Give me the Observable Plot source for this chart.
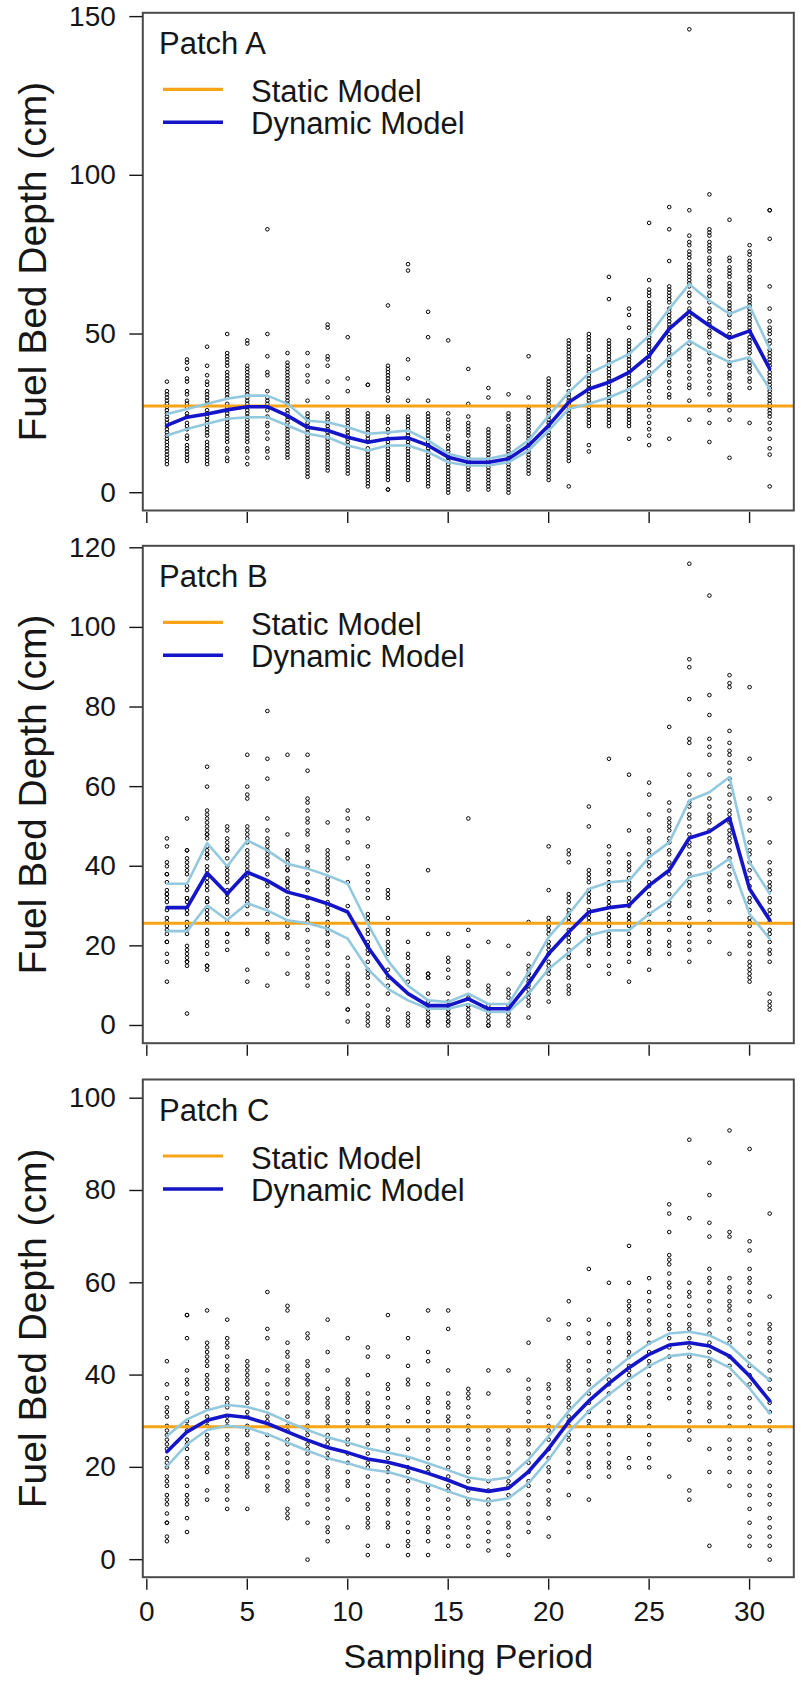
<!DOCTYPE html>
<html><head><meta charset="utf-8">
<script src="https://cdn.jsdelivr.net/npm/d3@7"></script>
<script src="https://cdn.jsdelivr.net/npm/@observablehq/plot@0.6"></script>
<style>
body{margin:0;background:#fff;}
#chart{position:relative;width:801px;height:1690px;background:#fff;}
#chart svg{position:absolute;left:0;display:block;}
</style></head><body><div id="chart"></div>
<script>
// ---------- DATA ----------
const periods = [1,2,3,4,5,6,7,8,9,10,11,12,13,14,15,16,17,18,19,20,21,22,23,24,25,26,27,28,29,30,31];
const xTickValues = [0,5,10,15,20,25,30];
const seriesNames = ["Static Model", "Dynamic Model"];
const patchNames = ["Patch A", "Patch B", "Patch C"];
const yLabel = "Fuel Bed Depth (cm)";
const xLabel = "Sampling Period";

const patchA_yTicks = [0,50,100,150];
const patchB_yTicks = [0,20,40,60,80,100,120];
const patchC_yTicks = [0,20,40,60,80,100];

const patchA_static = 27.3;
const patchB_static = 25.7;
const patchC_static = 28.8;

const patchA_points = [
"35 32 31 30 29 28 27 26 25 24 23 22 21 20 19 18 17 16 15 14 13 12 11 10 9",
"42 41 39 36 35 32 31 29 28 27 25 24 22 21 20 18 17 15 14 13 12 11 10",
"46 40 37 35 34 32 31 30 29 28 26 25 24 23 22 21 20 19 18 16 15 14 13 12 11 10 9",
"50 44 43 42 41 40 38 37 36 35 34 33 32 31 30 28 27 26 25 24 23 22 21 20 19 18 17 16 14 13 11 10",
"48 47 40 39 38 37 36 35 34 33 32 31 30 29 28 27 26 25 24 23 22 21 20 19 18 17 16 14 13 11 9",
"83 50 43 38 37 32 30 29 28 26 24 22 21 19 17 14 13 11",
"44 41 40 39 38 37 36 35 34 33 32 31 30 29 28 26 25 24 23 22 21 20 19 18 17 16 15 14 13 12 11",
"44 40 37 35 29 25 24 23 22 21 20 19 18 17 16 15 14 13 12 11 10 9 8 7 6 5",
"53 52 43 42 40 35 30 25 24 23 22 21 20 19 18 17 16 15 14 13 12 11 10 9 8 7",
"49 36 32 26 25 24 23 22 21 20 19 18 17 16 15 14 13 12 11 10 9 8 7 6",
"34 34 25 24 23 22 21 20 19 18 17 16 14 13 12 11 10 9 8 7 6 5 4 3 2",
"59 40 39 38 37 36 35 34 33 32 30 29 24 23 22 20 19 17 16 15 14 13 12 11 10 9 8 7 6 5 4 1 1",
"72 70 42 36 29 24 23 22 21 20 19 18 17 16 15 14 13 12 11 10 9 8 7 6 5 4",
"57 49 29 25 24 23 22 21 20 19 18 17 16 15 14 13 12 11 10 9 8 7 6 5 4 3 2",
"48 25 23 22 21 20 18 17 15 14 13 12 11 10 9 8 7 6 5 4 3 2 1 0",
"39 28 24 22 21 20 19 18 16 15 14 13 12 11 10 9 8 7 6 5 4 3 2 1",
"33 30 20 19 18 17 16 15 14 13 12 11 10 9 8 7 6 5 4 3 2 1",
"31 25 24 23 21 20 19 18 17 16 15 14 13 12 11 10 9 8 7 6 5 4 3 2 1 0",
"43 30 27 26 25 24 23 22 21 20 19 18 17 16 15 14 13 12 11 10 9 8 7 6",
"36 35 34 33 32 31 30 29 28 27 26 25 24 23 22 21 20 19 18 17 16 15 14 13 12 11 10 9 8 7 6 5 4",
"48 47 46 45 44 43 42 41 40 39 38 37 36 35 34 32 31 30 29 28 27 26 25 24 23 22 21 20 19 18 17 16 15 14 13 12 11 10 2",
"50 49 48 47 46 45 43 42 41 40 39 38 37 36 35 34 33 32 31 30 29 28 27 26 25 24 23 22 21 15 13",
"68 61 48 47 46 45 44 43 42 41 40 39 38 37 36 35 34 33 32 31 30 29 28 27 26 25 24 23 22 21",
"58 56 52 48 47 46 45 44 43 42 41 40 39 38 37 36 35 34 33 32 31 30 29 27 26 25 24 23 22 21 17",
"85 67 64 63 62 60 59 58 57 56 55 54 53 52 51 50 49 48 47 46 45 44 43 42 41 40 38 37 36 35 34 32 30 28 26 24 22 20 18 15",
"90 83 73 65 64 63 62 61 60 58 57 56 55 54 53 52 50 49 48 46 45 44 43 42 41 40 38 37 35 33 31 30 17",
"146 89 81 79 78 76 75 74 72 71 70 69 68 67 66 65 63 62 60 58 57 56 55 54 53 51 50 49 47 45 44 43 42 40 38 36 34 33 29 23",
"94 83 82 81 79 78 77 76 74 73 72 70 68 67 66 65 63 62 60 58 57 55 54 53 51 50 49 47 46 44 42 41 39 37 35 33 31 26 22 16",
"86 74 73 71 70 69 68 66 65 64 63 62 60 59 58 57 56 54 53 52 50 49 47 46 45 44 43 41 40 38 37 36 34 33 31 30 29 26 23 11",
"78 76 75 73 72 71 70 68 67 66 65 64 62 61 60 59 58 57 56 55 54 53 52 51 49 48 47 46 45 44 42 41 40 39 38 36 35 33 22",
"89 89 80 65 58 54 52 51 50 48 47 45 44 43 42 41 40 38 37 36 35 34 33 32 31 30 29 28 27 26 25 24 22 20 17 14 12 2"
];
const patchA_mean  = [21.2,23.8,24.8,26.1,27.1,27.1,24.3,20.6,19.6,17.5,15.9,17,17.3,14.9,11.2,9.6,9.6,10.7,14.9,21.2,28.5,32.7,34.8,37.9,43.2,51.6,57.1,52.6,48.7,51,39];
const patchA_upper = [24.8,26.4,28,29.6,30.6,30.6,28,22.7,22.2,20.6,18.6,19,19.6,16.5,12.3,10.7,10.7,12,16.5,24.3,31.7,37.6,40.6,43.7,49.5,57.9,65.7,60.5,56.3,58.9,45.3];
const patchA_lower = [18,20.1,21.7,23.3,23.8,23.8,21.2,18.6,17.5,14.9,13.3,14.9,14.9,12.8,9.6,8.6,8.6,9.6,13.3,19.6,26.4,28,30,32.7,36.9,42.7,47.9,44.2,41.1,42.7,32.7];

const patchB_points = [
"47 45 41 40 38 38 36 34 33 33 32 31 29 27 26 25 24 23 21 21 18 16 11",
"52 44 44 42 41 40 39 38 35 34 32 32 31 29 28 26 25 24 23 20 19 18 17 16 16 15 3",
"65 60 54 53 52 51 50 49 48 48 47 45 44 43 43 42 40 39 37 36 35 34 32 31 31 29 28 27 26 24 23 21 20 18 15 15 14",
"50 49 47 46 45 44 44 42 40 39 38 37 36 34 33 32 31 29 28 26 23 23 21 19",
"68 60 58 57 50 49 48 47 46 44 43 42 41 40 39 38 37 36 35 34 33 32 31 30 28 24 23 14 11",
"79 67 62 52 49 47 46 45 44 43 42 41 40 38 36 35 33 32 31 30 28 26 23 22 21 18 10",
"68 48 44 43 43 42 41 40 39 39 37 36 36 35 34 32 31 30 29 28 26 25 23 22 18 13",
"68 64 57 56 54 52 51 49 48 45 44 41 40 38 36 36 34 32 30 28 27 26 24 21 19 17 15 13 12 10",
"51 44 43 42 41 40 39 37 36 35 34 33 31 30 29 28 26 25 24 23 21 20 18 15 13 11 8",
"54 52 49 46 42 36 30 17 15 13 12 11 10 9 8 4 4 1",
"52 45 40 38 36 34 32 28 27 26 24 23 21 20 19 18 16 14 13 12 10 8 5 3 2 1 0",
"34 33 32 27 24 23 21 20 19 18 14 12 10 8 4 2 1 0",
"21 18 17 15 14 13 11 3 2 1 0",
"39 23 13 13 12 12 8 6 5 4 3 2 1 1 0",
"23 17 16 14 12 8 6 5 4 3 3 2 1 1 0",
"52 24 20 16 15 14 13 11 10 7 5 5 4 3 2 1 0",
"21 10 9 8 5 4 3 2 1 0 0",
"20 13 9 8 7 5 4 3 2 1 0",
"26 18 15 14 13 13 12 11 10 9 8 7 6 5 2",
"45 34 27 26 25 24 23 21 20 19 18 16 15 14 13 11 10 9 8 6",
"44 43 41 33 32 31 29 28 27 26 24 23 22 21 19 18 17 15 14 13 12 10 9 8",
"55 50 39 38 37 36 34 33 32 31 29 28 27 26 24 23 22 21 19 18 15",
"67 45 43 41 39 38 36 35 34 32 31 30 28 27 26 25 23 22 21 20 18 15 13",
"63 49 43 41 40 39 37 36 35 34 32 31 30 28 27 26 25 23 21 20 18 16 11",
"61 58 53 49 47 46 44 43 41 40 38 36 35 33 31 30 28 26 24 23 21 19 18 14",
"75 56 54 52 51 50 49 47 46 44 43 41 40 38 36 35 33 31 30 28 26 24 21 20 18",
"116 92 90 82 72 71 63 60 58 56 55 53 52 50 48 46 45 43 41 40 38 36 35 33 31 30 27 25 23 21 19 16",
"108 83 78 72 70 68 63 57 55 53 52 51 49 47 46 44 43 41 40 38 37 36 34 32 31 29 26 24 21",
"88 86 85 74 71 69 68 66 64 62 60 58 56 54 53 52 51 49 48 47 46 44 42 40 38 36 35 31 18",
"85 67 57 54 52 49 46 44 43 41 39 37 35 32 31 29 27 26 25 23 21 20 18 16 15 14 13 12 11",
"57 46 41 39 38 36 35 34 32 31 29 28 26 24 23 21 19 18 16 8 6 5 4"
];
const patchB_mean  = [29.6,29.6,38.3,33.1,38.5,36.4,33.5,32.2,30.6,28.5,19.7,12.6,8,5,5,6.7,4.2,4.2,10.5,18,23.5,28.5,29.6,30.2,35.2,39,47.1,48.7,52.1,34.3,26.5];
const patchB_upper = [35.6,35.6,45.8,40,46.5,44,40.6,39.4,37.7,35.6,25.5,16.3,10,6.3,5.9,8,5.4,5.4,13.4,22.2,28,34.3,36,36.4,42.3,46,56.5,58.6,62.4,41,33.1];
const patchB_lower = [23.7,23.7,30.2,26.5,30.7,28.9,26.4,25.7,24.3,21.8,14.2,9.2,6.3,4.2,4.2,5.4,3.4,3.4,8,14.2,18.4,22.6,23.9,23.9,28,31.4,37.3,38.5,41.9,28,21.8];

const patchC_points = [
"43 38 35 33 32 31 29 28 27 26 25 24 22 21 20 18 17 16 14 13 12 10 8 8 5 4",
"53 53 48 41 39 38 36 34 33 32 30 29 28 26 25 24 22 21 20 18 16 14 13 12 9 6",
"54 47 46 45 44 43 42 40 39 38 37 35 34 33 31 30 29 27 26 25 23 22 20 19 15 13",
"52 48 47 46 44 42 41 39 38 37 35 34 33 31 30 29 27 26 24 23 21 20 18 16 15 13 11",
"43 42 41 40 39 38 36 35 34 32 31 29 28 27 25 24 23 21 20 19 18 11",
"58 50 48 41 38 36 34 33 31 30 29 27 25 23 22 20 18 16 15",
"55 54 47 45 44 42 41 39 38 36 34 31 29 28 26 25 23 21 19 17 16 15 11 10 9",
"49 48 43 42 40 39 38 36 35 34 32 31 29 28 27 25 24 23 21 19 17 16 14 12 8 0",
"52 45 41 37 35 34 33 31 30 29 27 26 25 23 22 20 19 18 16 15 13 11 9 7 6 4",
"48 39 38 36 35 34 32 30 29 28 26 25 23 21 19 17 16 13 7",
"46 44 40 36 34 33 32 30 29 27 25 23 21 20 18 16 14 12 11 9 8 7 3 1",
"53 44 38 37 35 33 31 29 28 26 24 22 20 19 17 15 13 12 10 8 7 3",
"48 42 39 38 33 30 26 24 22 20 19 17 15 13 12 10 8 6 4 3 1",
"54 45 43 38 35 34 32 30 28 26 24 22 20 19 16 15 13 11 9 7 6 4 1",
"54 50 41 36 34 33 31 30 28 26 24 22 20 18 16 15 13 11 9 7 5 3",
"37 36 35 33 31 29 28 26 24 22 20 19 17 15 13 12 9 7 5 3",
"41 36 28 26 24 22 20 19 17 15 13 12 10 8 6 4 2",
"41 28 26 25 23 21 19 17 16 14 12 10 8 7 5 3 1",
"47 39 37 35 34 32 30 28 26 25 23 21 19 17 16 14 12 10 8 6",
"52 38 37 35 33 31 29 28 26 24 22 20 19 17 15 13 12 9 5",
"56 51 48 43 42 41 39 38 37 35 34 33 31 30 29 27 26 24 23 21 19 14",
"63 52 49 47 43 41 39 38 36 34 32 30 29 27 25 23 21 20 18 13",
"60 51 48 47 45 43 41 39 38 36 34 32 30 29 27 25 23 21 20 18",
"68 60 56 55 54 52 51 49 48 47 45 44 42 41 40 38 37 35 33 31 30 29 22 20",
"61 58 56 54 52 51 49 47 45 43 42 40 38 36 34 33 31 29 27 25 22 20",
"77 75 71 66 65 64 62 60 59 57 55 53 51 50 48 46 44 42 41 39 37 35 18",
"91 74 60 58 57 55 53 51 50 48 46 44 42 41 39 37 35 34 32 30 28 26 15 13",
"86 79 73 70 63 61 60 58 56 54 52 51 49 47 45 43 42 40 38 36 34 33 30 24 19 3",
"93 71 70 61 59 58 56 55 54 52 50 48 47 44 42 40 38 35 33 31 29 26 24 22 19 16",
"89 69 67 63 61 60 58 56 53 51 49 47 44 42 40 38 35 33 31 29 26 24 22 19 16 14 11 8 5 3",
"75 57 51 50 48 47 45 43 41 39 37 34 32 30 28 25 23 21 19 16 14 12 9 7 5 3 0"
];
const patchC_mean  = [23.4,27.7,30.2,31.3,30.8,29.5,27.7,25.9,24.3,23.2,21.8,21.1,20,18.7,17.2,15.5,14.8,15.5,19.1,24.1,29.9,34.4,38.2,41.6,44.5,46.5,47,46.3,44.1,39.8,34.4];
const patchC_upper = [26.8,30.4,32.4,33.5,33.1,31.9,29.9,28.1,26.5,25.4,24.1,23.2,22.3,20.9,19.4,17.8,17.2,17.8,21.7,26.8,32.2,36.7,40.3,43.8,46.8,49,49.4,48.6,46.5,42.5,38.9];
const patchC_lower = [20.2,25,28.1,29,28.6,27.2,25.4,23.6,22,20.9,19.6,19,17.8,16.4,14.8,13.3,12.6,13.3,16.6,21.7,27.7,32.2,35.8,39.1,42,44.1,44.6,43.8,41.6,37.1,31.7];

// ---------- DRAWING ----------
const FONT = "Arial, 'Liberation Sans', Helvetica, sans-serif";
const ORANGE = "#F7A416";
const BLUE = "#1414C8";
const LIGHTBLUE = "#93C9DF";
const INK = "#161616";

function buildPanel(cfg) {
  const pts = cfg.points.flatMap((s, i) => s.trim().split(/\s+/).map(v => ({period: periods[i], depth: +v})));
  const fit = periods.map((p, i) => ({period: p, mean: cfg.mean[i], upper: cfg.upper[i], lower: cfg.lower[i]}));
  const marks = [
    Plot.dot(pts, {x: "period", y: "depth", r: 1.8, stroke: "#000", strokeWidth: 1, fill: "none"}),
    Plot.ruleY([cfg.staticVal], {stroke: ORANGE, strokeWidth: 3}),
    Plot.line(fit, {x: "period", y: "upper", stroke: LIGHTBLUE, strokeWidth: 2.6}),
    Plot.line(fit, {x: "period", y: "lower", stroke: LIGHTBLUE, strokeWidth: 2.6}),
    Plot.line(fit, {x: "period", y: "mean", stroke: BLUE, strokeWidth: 3.6}),
    Plot.frame({stroke: "#4a4a4a", strokeWidth: 2}),
    Plot.axisY(cfg.yTicks, {anchor: "left", tickSize: 13, tickPadding: 14, fontSize: 28, label: null, strokeWidth: 1.4}),
    Plot.axisX(xTickValues, {anchor: "bottom", tickSize: 11, tickPadding: 11, fontSize: 28, label: null, strokeWidth: 1.4, dy: 2,
      tickFormat: cfg.showX ? (d => String(d)) : (() => "")}),
    Plot.text([yLabel], {frameAnchor: "left", textAnchor: "middle", lineAnchor: "middle", rotate: -90, dx: -108.8, fontSize: 39, fill: INK})
  ];
  if (cfg.showX) {
    marks.push(Plot.text([xLabel], {frameAnchor: "bottom", textAnchor: "middle", lineAnchor: "middle", dy: 80, fontSize: 34, fill: INK}));
  }
  const svg = Plot.plot({
    width: 801, height: cfg.height,
    marginLeft: 142.3, marginRight: 7.7, marginTop: cfg.mt, marginBottom: cfg.mb,
    style: {fontFamily: FONT, color: INK, background: "white", overflow: "visible"},
    x: {domain: [-0.2, 32.2]},
    y: {domain: cfg.yDomain},
    marks
  });
  // legend (inside the frame, top-left)
  const s = d3.select(svg);
  const ft = cfg.mt;
  const g = s.append("g").attr("font-family", FONT).attr("fill", INK).attr("text-anchor", "start");
  g.append("text").attr("x", 159).attr("y", ft + 42).attr("font-size", 31).text(cfg.name);
  g.append("line").attr("x1", 163).attr("x2", 223).attr("y1", ft + 77).attr("y2", ft + 77)
    .attr("stroke", ORANGE).attr("stroke-width", 3.2);
  g.append("text").attr("x", 251).attr("y", ft + 90).attr("font-size", 31).text(seriesNames[0]);
  g.append("line").attr("x1", 163).attr("x2", 223).attr("y1", ft + 110).attr("y2", ft + 110)
    .attr("stroke", BLUE).attr("stroke-width", 3.6);
  g.append("text").attr("x", 251).attr("y", ft + 122).attr("font-size", 31).text(seriesNames[1]);
  svg.style.top = cfg.top + "px";
  return svg;
}

const chart = document.getElementById("chart");
chart.appendChild(buildPanel({name: patchNames[0], points: patchA_points, mean: patchA_mean, upper: patchA_upper, lower: patchA_lower,
  staticVal: patchA_static, yTicks: patchA_yTicks, yDomain: [-5.6, 151.2], top: 0, height: 530, mt: 12.3, mb: 20, showX: false}));
chart.appendChild(buildPanel({name: patchNames[1], points: patchB_points, mean: patchB_mean, upper: patchB_upper, lower: patchB_lower,
  staticVal: patchB_static, yTicks: patchB_yTicks, yDomain: [-4.45, 120.5], top: 530, height: 530, mt: 15.3, mb: 17.3, showX: false}));
chart.appendChild(buildPanel({name: patchNames[2], points: patchC_points, mean: patchC_mean, upper: patchC_upper, lower: patchC_lower,
  staticVal: patchC_static, yTicks: patchC_yTicks, yDomain: [-3.8, 104.05], top: 1060, height: 630, mt: 19, mb: 113.3, showX: true}));
</script>
</body></html>
